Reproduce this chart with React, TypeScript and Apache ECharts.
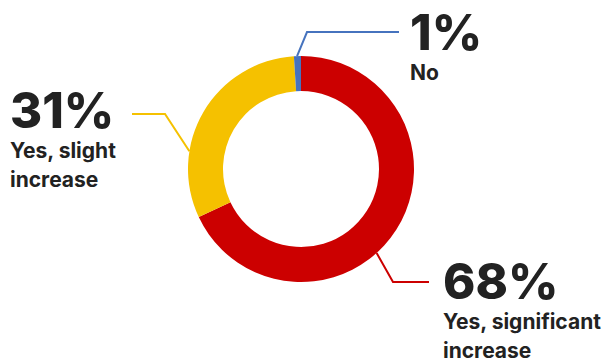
import React, { useEffect, useRef } from "react";
import * as echarts from "echarts";

const categories = ["Yes, significant\nincrease", "Yes, slight\nincrease", "No"];
const values = [68, 31, 1];
const colors = ["#CC0000", "#F5C100", "#4673BE"];

// label layout (attach angle on ring, elbow, end, text left/top)
const attachAngles = [-48, 171, 92];
const elbows = [[393, 282], [165, 114], [307, 32]];
const ends = [[429, 282], [132, 114], [399, 32]];
const textPos = [[443, 255], [10, 84], [410, 6]];

const CX = 301;
const CY = 169;
const R_OUT = 113;
const R_IN = 78;

export default function App() {
  const ref = useRef<HTMLDivElement>(null);
  useEffect(() => {
    if (!ref.current) return;
    const chart = echarts.init(ref.current, null, { renderer: "svg" });
    const data = categories.map((c, i) => ({
      name: c,
      value: values[i],
      itemStyle: { color: colors[i] },
      labelLine: { lineStyle: { color: colors[i], width: 2 } },
    }));
    chart.setOption({
      animation: false,
      backgroundColor: "#ffffff",
      series: [
        {
          type: "pie",
          center: [CX, CY],
          radius: [R_IN, R_OUT],
          startAngle: 90,
          clockwise: true,
          silent: true,
          itemStyle: { borderWidth: 0 },
          data,
          label: {
            show: true,
            position: "outside",
            overflow: "none",
            edgeDistance: 0,
            bleedMargin: 0,
            formatter: (p: any) => {
              const lines = String(p.name).split("\n").map((l) => `{sub|${l}}`);
              return `{big|${p.value}%}\n` + lines.join("\n");
            },
            rich: {
              big: {
                fontFamily: "Inter",
                fontWeight: 800,
                fontSize: 49,
                lineHeight: 52,
                color: "#222222",
              },
              sub: {
                fontFamily: "Inter",
                fontWeight: 700,
                fontSize: 21,
                lineHeight: 29,
                color: "#222222",
              },
            },
          },
          labelLine: { show: true, length: 20, length2: 30, smooth: false },
          labelLayout: (params: any) => {
            const i = params.dataIndex;
            const a = (attachAngles[i] * Math.PI) / 180;
            const start = [CX + R_OUT * Math.cos(a), CY - R_OUT * Math.sin(a)];
            return {
              x: textPos[i][0],
              y: textPos[i][1],
              align: "left",
              verticalAlign: "top",
              labelLinePoints: [start, elbows[i], ends[i]],
            };
          },
        },
      ],
    });
    return () => chart.dispose();
  }, []);
  return (
    <div
      ref={ref}
      style={{ position: "fixed", left: 0, top: 0, width: 607, height: 362 }}
    />
  );
}
